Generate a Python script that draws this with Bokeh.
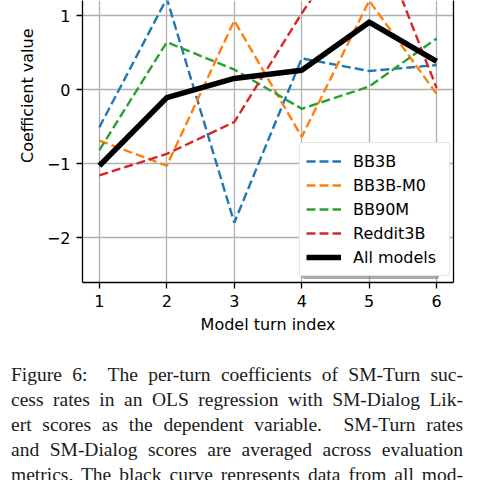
from bokeh.plotting import figure
from bokeh.models import Legend, LegendItem, LinearAxis, FixedTicker, Div, Range1d
from bokeh.layouts import column
from bokeh.embed import file_html
from bokeh.resources import INLINE

# ---- data ----
turns = [1, 2, 3, 4, 5, 6]
bb3b = [-0.51, 1.23, -1.80, 0.42, 0.25, 0.33]
bb3b_m0 = [-0.69, -1.03, 0.93, -0.64, 1.20, -0.06]
bb90m = [-0.82, 0.64, 0.27, -0.26, 0.04, 0.69]
reddit3b = [-1.16, -0.87, -0.44, 1.03, 2.35, 0.02]
all_models = [-1.03, -0.11, 0.15, 0.26, 0.91, 0.38]

series_names = ["BB3B", "BB3B-M0", "BB90M", "Reddit3B"]
series_values = [bb3b, bb3b_m0, bb90m, reddit3b]
series_colors = ["#1f77b4", "#ff7f0e", "#2ca02c", "#d62728"]
all_name = "All models"

xticks = [1, 2, 3, 4, 5, 6]
yticks = [-2, -1, 0, 1]
ytick_labels = ["\u22122", "\u22121", "0", "1"]
x_label = "Model turn index"
y_label = "Coefficient value"

caption_lines = [
    "Figure 6:&nbsp; The per-turn coefficients of SM-Turn suc-",
    "cess rates in an OLS regression with SM-Dialog Lik-",
    "ert scores as the dependent variable.&nbsp; SM-Turn rates",
    "and SM-Dialog scores are averaged across evaluation",
    "metrics. The black curve represents data from all mod-",
]

FONT = "DejaVu Sans"

p = figure(width=480, height=340, output_backend="svg", toolbar_location=None,
           x_range=Range1d(0.75, 6.25), y_range=Range1d(-2.608, 1.2027),
           min_border_left=82, min_border_right=27, min_border_top=0,
           min_border_bottom=58, margin=0)
p.outline_line_color = None
p.background_fill_color = "white"
p.border_fill_color = "white"

p.xaxis.ticker = FixedTicker(ticks=xticks)
p.yaxis.ticker = FixedTicker(ticks=yticks)
p.yaxis.major_label_overrides = dict(zip(yticks, ytick_labels))
p.xaxis.axis_label = x_label
p.yaxis.axis_label = "\u00a0" * 18 + y_label

for ax in (p.xaxis[0], p.yaxis[0]):
    ax.axis_line_color = "black"
    ax.axis_line_width = 1.3
    ax.major_tick_line_color = "black"
    ax.major_tick_line_width = 1.3
    ax.major_tick_out = 6
    ax.major_tick_in = 0
    ax.minor_tick_line_color = None
    ax.major_label_standoff = 6
    ax.major_label_text_font = FONT
    ax.major_label_text_font_size = "16px"
    ax.major_label_text_color = "black"
    ax.axis_label_text_font = FONT
    ax.axis_label_text_font_size = "16px"
    ax.axis_label_text_font_style = "normal"
    ax.axis_label_text_color = "black"
p.xaxis.axis_label_standoff = 5
p.yaxis.axis_label_standoff = 7

ra = LinearAxis(ticker=FixedTicker(ticks=[]), axis_line_color="black",
                axis_line_width=1.3, major_tick_line_color=None,
                minor_tick_line_color=None, major_label_text_font_size="0px")
p.add_layout(ra, "right")

p.xgrid.grid_line_color = "#b0b0b0"
p.ygrid.grid_line_color = "#b0b0b0"
p.xgrid.grid_line_width = 1.3
p.ygrid.grid_line_width = 1.3

rends = []
for name, vals, color in zip(series_names, series_values, series_colors):
    r = p.line(turns, vals, line_color=color, line_width=2.4, line_dash="9 4")
    rends.append((name, r))
r_all = p.line(turns, all_models, line_color="black", line_width=5.5, line_join="round")
rends.append((all_name, r_all))

# drop shadow box behind the legend (a single empty item sized like the legend)
shadow = Legend(items=[LegendItem(label="", renderers=[r_all])],
                location=(220, 3), border_line_color=None,
                background_fill_color="#707070", background_fill_alpha=0.6,
                label_text_font_size="16px", label_height=120, glyph_height=120,
                glyph_width=35, label_standoff=12, label_width=90,
                spacing=0, padding=6, margin=0)
main = Legend(items=[LegendItem(label=n, renderers=[r]) for n, r in rends],
              location=(217, 6), border_line_color="#cccccc", border_line_width=1.3,
              background_fill_color="white", background_fill_alpha=1.0,
              label_text_color="black", label_text_font=FONT,
              label_text_font_size="16px", label_height=24, glyph_height=24,
              glyph_width=35, label_standoff=12, label_width=90,
              spacing=0, padding=6, margin=0)
if "border_radius" in Legend.properties():
    main.border_radius = 3
    shadow.border_radius = 3
p.add_layout(shadow)
p.add_layout(main)

lines_html = "".join(
    '<div style="text-align:justify;text-align-last:justify;white-space:nowrap;">%s</div>' % t
    for t in caption_lines)
html = ('<div style="box-sizing:border-box; font-family:\'Liberation Serif\', serif; '
        'font-size:19.5px; line-height:25px; color:#1a1a1a; padding:22px 0 0 11px; '
        'width:463px;">' + lines_html + '</div>')
cap = Div(text=html, width=480, height=140, margin=0, styles={"overflow": "hidden"})

layout = column(p, cap)
open("out.html", "w").write(file_html(layout, INLINE))
